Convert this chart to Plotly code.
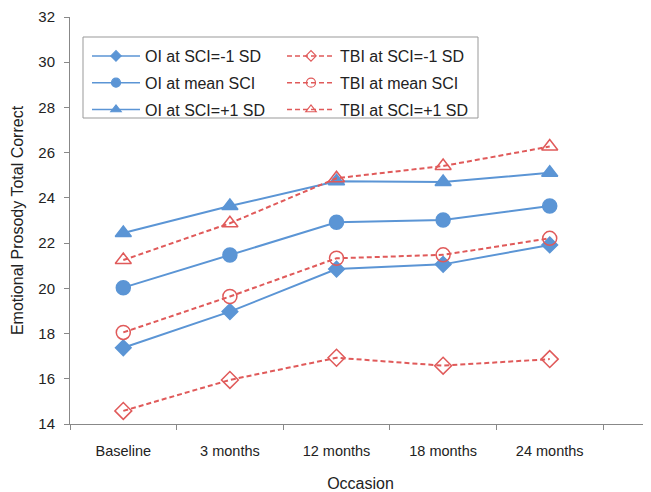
import plotly.graph_objects as go

occasions = ["Baseline", "3 months", "12 months", "18 months", "24 months"]
oi_minus = [17.37, 18.97, 20.85, 21.06, 21.92]
oi_mean = [20.03, 21.47, 22.92, 23.02, 23.64]
oi_plus = [22.45, 23.64, 24.74, 24.70, 25.11]
tbi_minus = [14.58, 15.95, 16.93, 16.58, 16.87]
tbi_mean = [18.05, 19.64, 21.33, 21.48, 22.21]
tbi_plus = [21.25, 22.88, 24.87, 25.41, 26.27]

blue = "#5B95D5"
red = "#E05A5A"
dash_style = "5px,3px"

# page offset (browser body margin)
OFF = 8
W, H = 651 - OFF, 492 - OFF
L, T, B = 70 - OFF, 17 - OFF, 68
pw = W - L
ph = H - T - B


def px_x(p):
    return (p - OFF - L) / pw


def px_y(p):
    return (H - B - (p - OFF)) / ph


fig = go.Figure()
series = [
    ("OI at SCI=-1 SD", oi_minus, blue, "solid", "diamond", 12, 8, "legend"),
    ("OI at mean SCI", oi_mean, blue, "solid", "circle", 14, 9, "legend"),
    ("OI at SCI=+1 SD", oi_plus, blue, "solid", "triangle-up", 14, 9, "legend"),
    ("TBI at SCI=-1 SD", tbi_minus, red, dash_style, "diamond-open", 13, 8, "legend2"),
    ("TBI at mean SCI", tbi_mean, red, dash_style, "circle-open", 14, 9, "legend2"),
    ("TBI at SCI=+1 SD", tbi_plus, red, dash_style, "triangle-up-open", 14, 9, "legend2"),
]
for name, vals, col, dash, sym, size, lsize, leg in series:
    fig.add_trace(go.Scatter(
        x=occasions, y=vals, name=name, mode="lines+markers",
        showlegend=False,
        line=dict(color=col, width=2, dash=dash),
        marker=dict(symbol=sym, size=size, color=col,
                    line=dict(color=col, width=1.5)),
    ))
    # legend entry with smaller marker
    fig.add_trace(go.Scatter(
        x=[None], y=[None], name=name, mode="lines+markers",
        legend=leg, legendgroup=name, showlegend=True,
        line=dict(color=col, width=1.5, dash=dash),
        marker=dict(symbol=sym, size=lsize, color=col,
                    line=dict(color=col, width=1.2)),
    ))

legend_common = dict(
    xanchor="left", yanchor="top", bgcolor="rgba(0,0,0,0)",
    borderwidth=0, font=dict(size=16), tracegroupgap=3,
    itemwidth=48,
)

fig.update_layout(
    width=W, height=H,
    margin=dict(l=L, r=0, t=T, b=B),
    paper_bgcolor="white", plot_bgcolor="white",
    font=dict(family="Liberation Sans, Arial, sans-serif", size=15, color="#222"),
    showlegend=True,
    legend=dict(x=px_x(87), y=px_y(39), **legend_common),
    legend2=dict(x=px_x(282), y=px_y(39), **legend_common),
    shapes=[dict(type="rect", xref="paper", yref="paper",
                 x0=px_x(83), x1=px_x(478), y0=px_y(118), y1=px_y(37),
                 line=dict(color="#999", width=1))],
    xaxis=dict(
        type="category", range=[-0.5, 4.95], showgrid=False, automargin=False,
        showline=True, linecolor="#888", linewidth=1,
        ticks="outside", tickson="boundaries", ticklen=5, tickcolor="#888",
        ticklabelstandoff=14, tickfont=dict(size=14.5),
        title=dict(text="Occasion", font=dict(size=16), standoff=20),
    ),
    yaxis=dict(
        range=[14, 32], dtick=2, showgrid=False, zeroline=False, automargin=False,
        showline=True, linecolor="#888", linewidth=1,
        ticks="outside", ticklen=5, tickcolor="#888",
        ticklabelstandoff=6, tickfont=dict(size=15),
        title=dict(text="Emotional Prosody Total Correct", font=dict(size=16), standoff=10),
    ),
)
fig.write_html("out.html")
